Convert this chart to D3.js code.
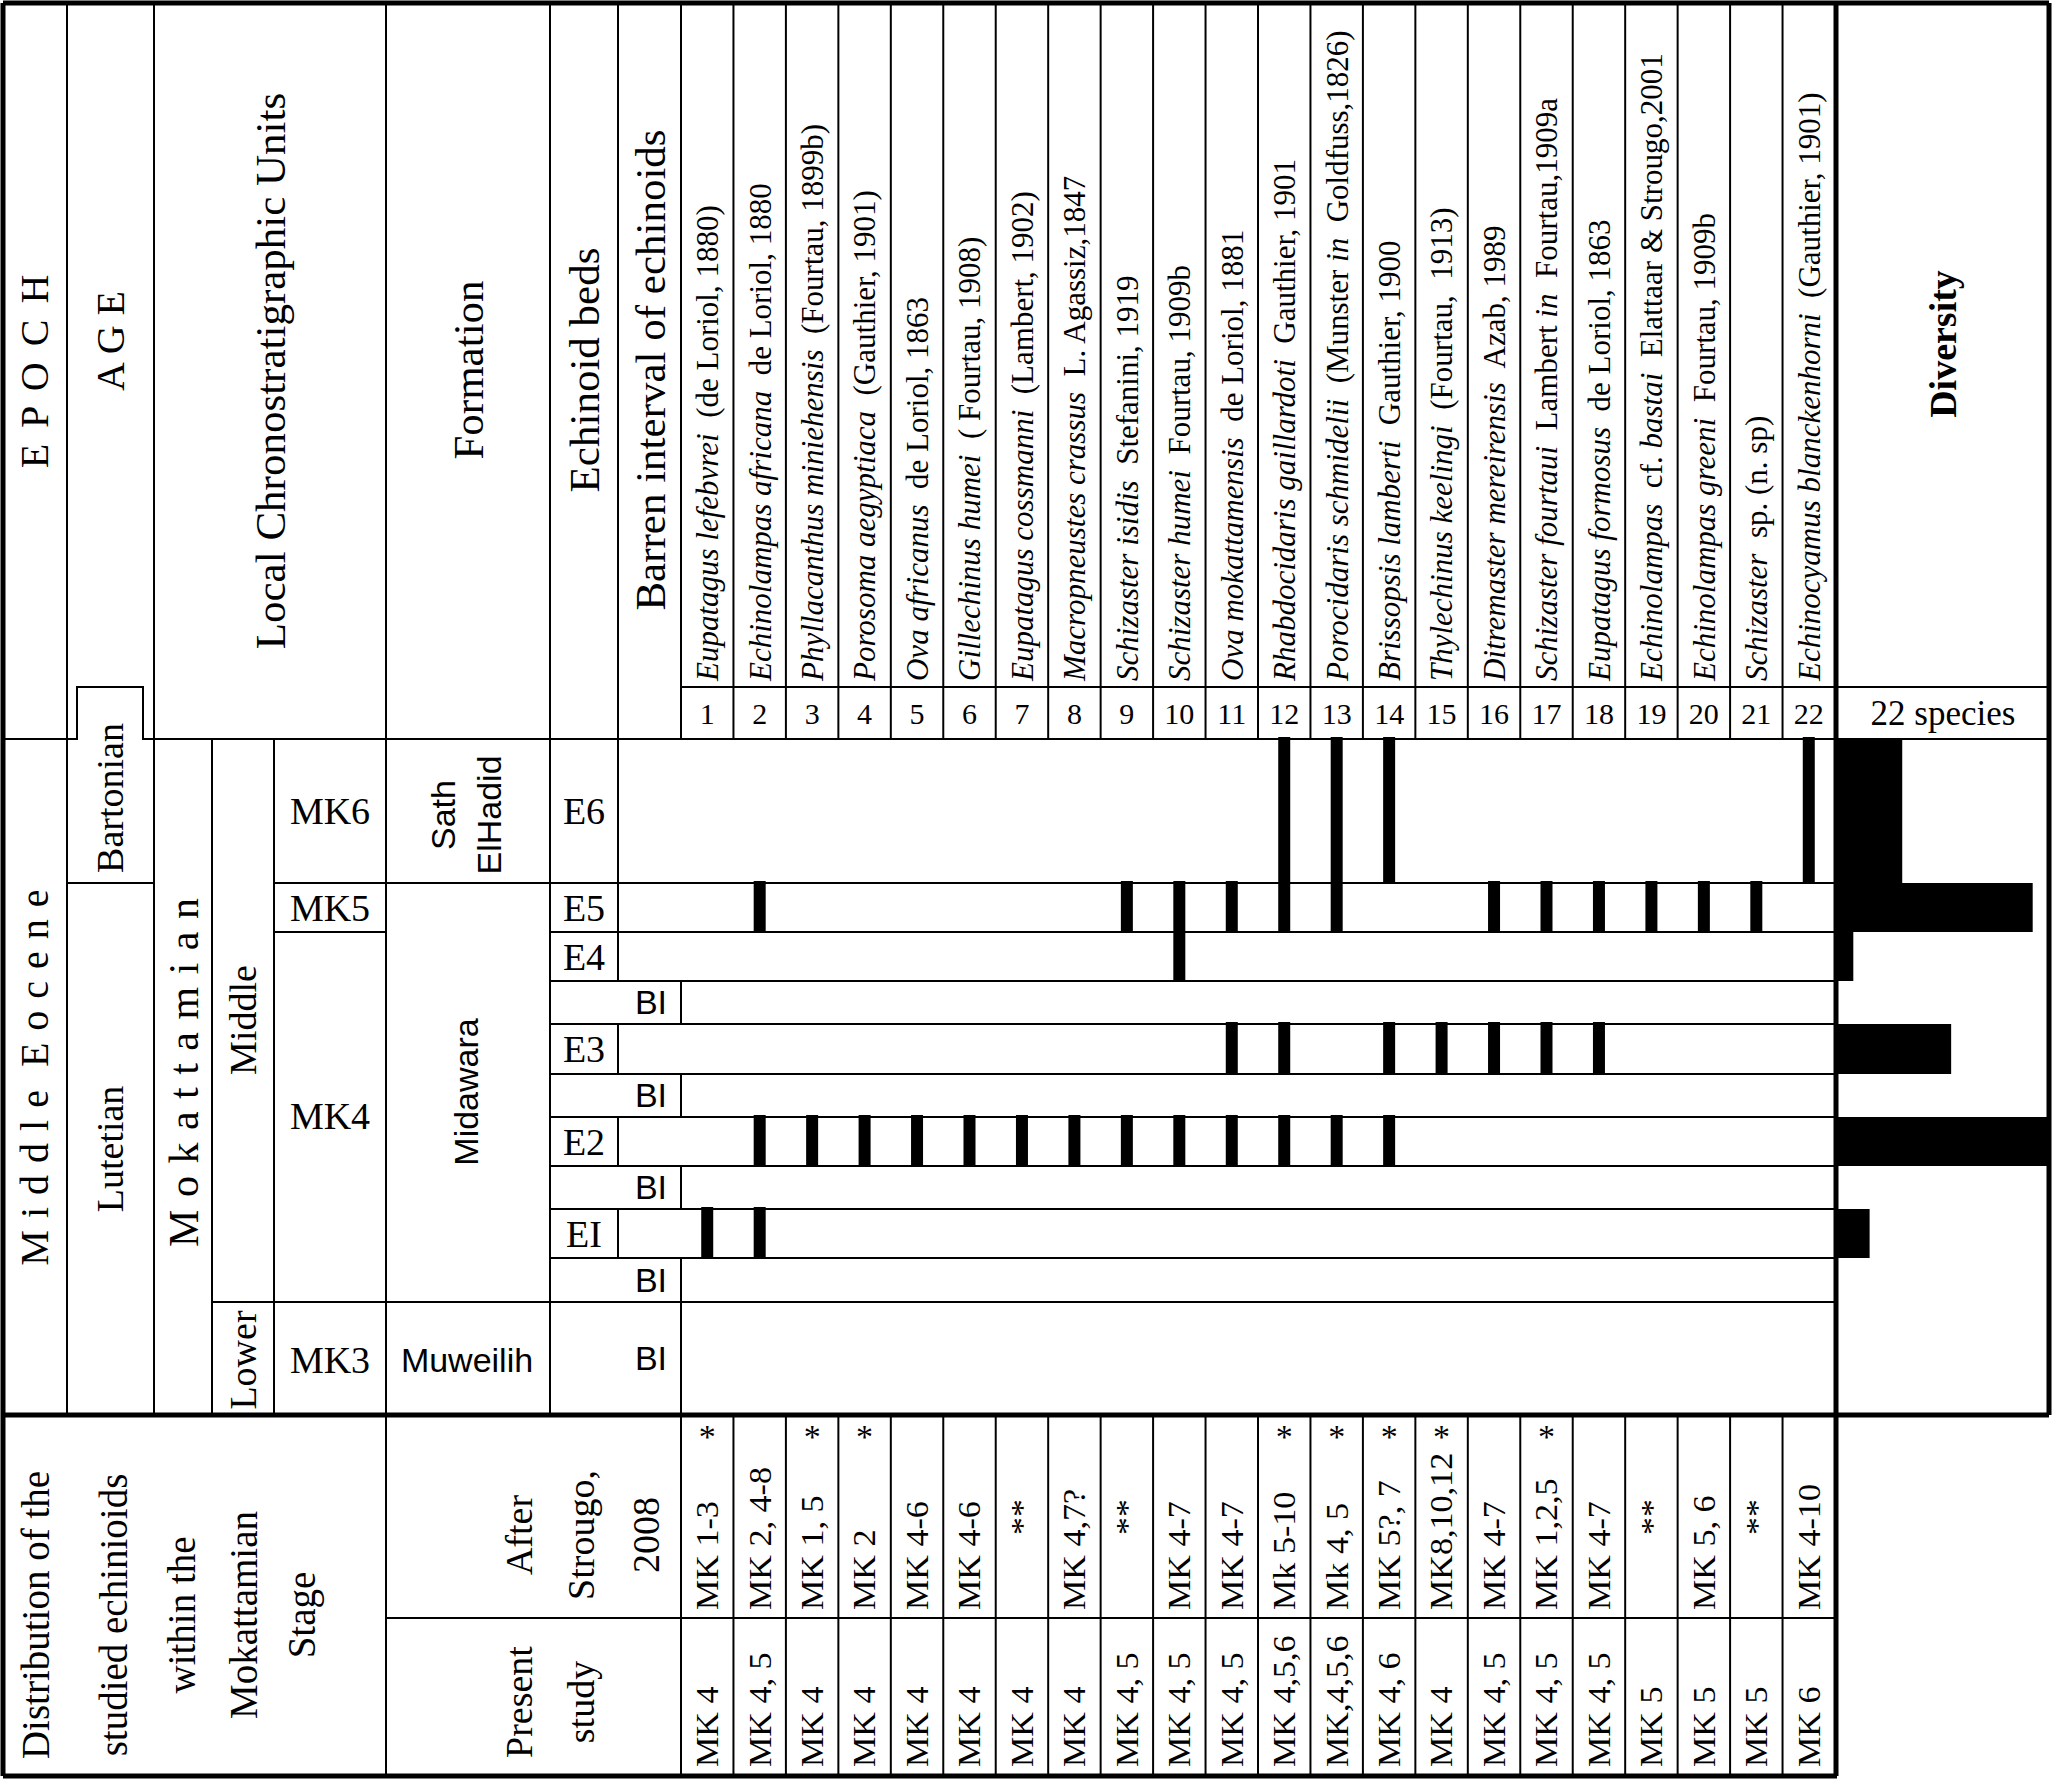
<!DOCTYPE html>
<html lang="en">
<meta charset="utf-8">
<style>
  body{margin:0;background:#fff}
  text{font-family:"Liberation Serif","Times New Roman",serif;fill:#000;white-space:pre}
  .sans{font-family:"Liberation Sans",Arial,sans-serif}
  .grid line,.grid path{stroke:#000;stroke-width:2;fill:none}
  .grid .thick{stroke-width:5}
</style>
<body>
<script src="https://cdn.jsdelivr.net/npm/d3@7/dist/d3.min.js"></script>
<script>
  // ---- data ----
  // _..._ marks the italic part of a name
  var species = [
    '_Eupatagus lefebvrei_  (de Loriol, 1880)',
    '_Echinolampas africana_  de Loriol, 1880',
    '_Phyllacanthus miniehensis_  (Fourtau, 1899b)',
    '_Porosoma aegyptiaca_  (Gauthier, 1901)',
    '_Ova africanus_  de Loriol, 1863',
    '_Gillechinus humei_  ( Fourtau, 1908)',
    '_Eupatagus cossmanni_  (Lambert, 1902)',
    '_Macropneustes crassus_  L. Agassiz,1847',
    '_Schizaster isidis_  Stefanini, 1919',
    '_Schizaster humei_  Fourtau, 1909b',
    '_Ova mokattamensis_  de Loriol, 1881',
    '_Rhabdocidaris gaillardoti_  Gauthier, 1901',
    '_Porocidaris schmidelii_  (Munster _in_  Goldfuss,1826)',
    '_Brissopsis lamberti_  Gauthier, 1900',
    '_Thylechinus keelingi_  (Fourtau,  1913)',
    '_Ditremaster mereirensis_  Azab, 1989',
    '_Schizaster fourtaui_  Lambert _in_  Fourtau,1909a',
    '_Eupatagus formosus_  de Loriol, 1863',
    '_Echinolampas_  cf. _bastai_  Elattaar & Strougo,2001',
    '_Echinolampas greeni_  Fourtau, 1909b',
    '_Schizaster_  sp. (n. sp)',
    '_Echinocyamus blanckenhorni_  (Gauthier, 1901)'
  ]
  // echinoid beds where each species occurs (E6-E5 = one continuous range)
  var ranges = [
    ['EI'], ['E5', 'E2', 'EI'], ['E2'], ['E2'], ['E2'], ['E2'], ['E2'], ['E2'],
    ['E5', 'E2'], ['E5-E4', 'E2'], ['E5', 'E3', 'E2'], ['E6-E5', 'E3', 'E2'],
    ['E6-E5', 'E2'], ['E6', 'E3', 'E2'], ['E3'], ['E5', 'E3'], ['E5', 'E3'],
    ['E5', 'E3'], ['E5'], ['E5'], ['E5'], ['E6']
  ]
  var afterStrougo = ['MK 1-3', 'MK 2, 4-8', 'MK 1, 5', 'MK 2', 'MK 4-6', 'MK 4-6', '**', 'MK 4,7?',
    '**', 'MK 4-7', 'MK 4-7', 'Mk 5-10', 'Mk 4, 5', 'MK 5?, 7', 'MK8,10,12', 'MK 4-7',
    'MK 1,2,5', 'MK 4-7', '**', 'MK 5, 6', '**', 'MK 4-10']
  var starred = [1, 3, 4, 12, 13, 14, 15, 17]
  var presentStudy = ['MK 4', 'MK 4, 5', 'MK 4', 'MK 4', 'MK 4', 'MK 4', 'MK 4', 'MK 4',
    'MK 4, 5', 'MK 4, 5', 'MK 4, 5', 'MK 4,5,6', 'MK,4,5,6', 'MK 4, 6', 'MK 4', 'MK 4, 5',
    'MK 4, 5', 'MK 4, 5', 'MK 5', 'MK 5', 'MK 5', 'MK 6']
  var divBeds = ['E6', 'E5', 'E4', 'E3', 'E2', 'EI']
  var diversity = [4, 12, 1, 7, 13, 2]
  var rowKeys = ['E6', 'E5', 'E4', 'B1', 'E3', 'B2', 'E2', 'B3', 'EI', 'B4', 'MK3']
  var bedLabels = ['E6', 'E5', 'E4', 'BI', 'E3', 'BI', 'E2', 'BI', 'EI', 'BI', 'BI']

  // ---- layout ----
  var rowTops = [739, 883, 932, 981, 1024, 1074, 1117, 1166, 1209, 1258, 1302]
  var rowBots = [883, 932, 981, 1024, 1074, 1117, 1166, 1209, 1258, 1302, 1415]
  var yTop = d3.scaleOrdinal().domain(rowKeys).range(rowTops)
  var yBot = d3.scaleOrdinal().domain(rowKeys).range(rowBots)
  var x = d3.scaleBand().domain(d3.range(1, 23)).range([681, 1835])
  var xDiv = d3.scaleLinear().domain([0, 13]).range([1837, 2049])

  var svg = d3.select('body').append('svg').attr('width', 2052).attr('height', 1780)

  // ---- bars ----
  var bars = []
  ranges.forEach(function(r, i){
    r.forEach(function(s){
      var p = s.split('-')
      bars.push({sp: i + 1, from: p[0], to: p[1] || p[0]})
    })
  })
  svg.append('g').selectAll('rect').data(bars).join('rect')
    .attr('x', d => x(d.sp) + x.bandwidth() / 2 - 6)
    .attr('width', 12)
    .attr('y', d => yTop(d.from) - 2)
    .attr('height', d => yBot(d.to) - yTop(d.from) + 3)

  svg.append('g').selectAll('rect').data(divBeds).join('rect')
    .attr('x', xDiv(0))
    .attr('width', (d, i) => xDiv(diversity[i]) - xDiv(0))
    .attr('y', d => yTop(d))
    .attr('height', d => yBot(d) - yTop(d))

  // ---- grid ----
  var grid = svg.append('g').attr('class', 'grid')
  function hl(y, x1, x2, cls){ grid.append('line').attr('class', cls || null).attr('x1', x1).attr('x2', x2).attr('y1', y).attr('y2', y) }
  function vl(xx, y1, y2, cls){ grid.append('line').attr('class', cls || null).attr('x1', xx).attr('x2', xx).attr('y1', y1).attr('y2', y2) }

  hl(687, 681, 2049)
  hl(739, 3, 67)
  grid.append('path').attr('d', 'M67,739H77V687H143V739H154')
  hl(739, 154, 2049)
  hl(883, 67, 154)
  hl(883, 274, 1835)
  hl(932, 274, 386)
  hl(932, 550, 1835)
  rowTops.slice(3).forEach(function(y, i){ hl(y, i === 7 ? 212 : 550, 1835) })
  hl(1618, 386, 1835)
  hl(1415, 3, 2049, 'thick')
  hl(3, 3, 2049, 'thick')
  hl(1776, 3, 1837, 'thick')

  vl(67, 3, 1415); vl(154, 3, 1415); vl(212, 739, 1415); vl(274, 739, 1415)
  vl(386, 3, 1776); vl(550, 3, 1415)
  vl(618, 3, 981); vl(618, 1024, 1074); vl(618, 1117, 1166); vl(618, 1209, 1258)
  vl(681, 3, 739); vl(681, 981, 1024); vl(681, 1074, 1117); vl(681, 1166, 1209); vl(681, 1258, 1776)
  d3.range(2, 23).forEach(function(k){ vl(x(k), 3, 739); vl(x(k), 1415, 1776) })
  vl(3, 3, 1776, 'thick'); vl(1836, 3, 1776, 'thick'); vl(2049, 3, 1415, 'thick')

  // ---- text ----
  function txt(xx, y, s, size, opt){
    opt = opt || {}
    var t = svg.append('text').attr('x', 0).attr('y', 0)
      .attr('font-size', size).attr('text-anchor', opt.anchor || 'middle')
      .attr('dy', opt.dy != null ? opt.dy : '0.35em')
    var tr = 'translate(' + xx + ',' + y + ')'
    if (opt.rot) tr += ' rotate(-90)'
    if (opt.stretch) tr += ' scale(' + opt.stretch + ',1)'
    t.attr('transform', tr)
    if (opt.sans) t.attr('class', 'sans')
    if (opt.bold) t.attr('font-weight', 'bold')
    if (opt.ls) t.attr('letter-spacing', opt.ls)
    return t.text(s)
  }

  txt(34, 370, 'E P O C H', 40, {rot: 1, ls: 3})
  txt(110, 341, 'A G E', 40, {rot: 1})
  txt(270, 371, 'Local Chronostratigraphic Units', 43, {rot: 1})
  txt(468, 370, 'Formation', 43, {rot: 1})
  txt(584, 370, 'Echinoid beds', 43, {rot: 1})
  txt(650, 370, 'Barren interval of echinoids', 43, {rot: 1})
  txt(1943, 344, 'Diversity', 38, {rot: 1, bold: 1})
  txt(1943, 713, '22 species', 35)

  species.forEach(function(s, i){
    var xx = x(i + 1) + x.bandwidth() / 2, y = 681
    var t = svg.append('text').attr('x', xx).attr('y', y).attr('dy', '0.35em')
      .attr('font-size', 31).attr('transform', 'rotate(-90,' + xx + ',' + y + ')')
    s.split('_').forEach(function(part, j){
      if (part) t.append('tspan').attr('font-style', j % 2 ? 'italic' : null).text(part)
    })
  })
  d3.range(1, 23).forEach(function(k){ txt(x(k) + x.bandwidth() / 2, 713, String(k), 30) })

  txt(34, 1077, 'M i d d l e  E o c e n e', 40, {rot: 1, ls: 1})
  txt(110, 798, 'Bartonian', 38, {rot: 1})
  txt(110, 1149, 'Lutetian', 38, {rot: 1})
  txt(183, 1072, 'M o k a t t a m i a n', 42, {rot: 1, ls: 1})
  txt(243, 1020, 'Middle', 38, {rot: 1})
  txt(243, 1360, 'Lower', 38, {rot: 1})
  txt(330, 811, 'MK6', 38); txt(330, 908, 'MK5', 38); txt(330, 1116, 'MK4', 38); txt(330, 1360, 'MK3', 38)
  txt(443, 815, 'Sath', 34, {rot: 1, sans: 1})
  txt(489, 815, 'ElHadid', 34, {rot: 1, sans: 1})
  txt(466, 1092, 'Midawara', 34, {rot: 1, sans: 1})
  txt(467, 1360, 'Muweilih', 34, {sans: 1})

  rowKeys.forEach(function(k, i){
    var y = (yTop(k) + yBot(k)) / 2
    if (bedLabels[i] === 'BI') txt(667, y, 'BI', 34, {sans: 1, anchor: 'end'})
    else txt(584, y, bedLabels[i], 38)
  })

  // ---- distribution table ----
  var dist = ['Distribution of the', 'studied echinioids', 'within the', 'Mokattamian', 'Stage']
  var distX = [35, 113, 181, 243, 301]
  dist.forEach(function(s, i){ txt(distX[i], 1615, s, 39, {rot: 1}) })
  txt(519, 1535, 'After', 38, {rot: 1}); txt(581, 1535, 'Strougo,', 38, {rot: 1}); txt(646, 1535, '2008', 38, {rot: 1})
  txt(519, 1702, 'Present', 38, {rot: 1}); txt(581, 1702, 'study', 38, {rot: 1})

  afterStrougo.forEach(function(s, i){
    var xx = x(i + 1) + x.bandwidth() / 2
    if (s === '**') txt(xx, 1517, s, 32, {rot: 1, stretch: 1.12})
    else txt(xx, 1610, s, 31, {rot: 1, anchor: 'start', stretch: 1.1})
  })
  starred.forEach(function(k){ txt(x(k) + x.bandwidth() / 2, 1436, '*', 34) })
  presentStudy.forEach(function(s, i){
    txt(x(i + 1) + x.bandwidth() / 2, 1767, s, 31, {rot: 1, anchor: 'start', stretch: 1.1})
  })
</script>
</body>
</html>
